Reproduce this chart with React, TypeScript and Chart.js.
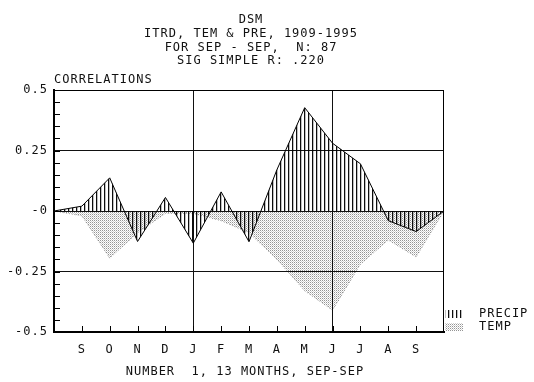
import React, { useEffect, useRef } from 'react';
import { Chart, registerables } from 'chart.js';

Chart.register(...registerables);

const categories = ['', 'S', 'O', 'N', 'D', 'J', 'F', 'M', 'A', 'M', 'J', 'J', 'A', 'S', ''];
const precip = [0, 0.02, 0.137, -0.126, 0.056, -0.133, 0.079, -0.127, 0.17, 0.427, 0.28, 0.195, -0.04, -0.085, 0];
const temp = [0, -0.02, -0.195, -0.09, -0.01, -0.01, -0.04, -0.09, -0.2, -0.33, -0.41, -0.22, -0.12, -0.19, 0];
const yTickValues = [0.5, 0.25, 0, -0.25, -0.5];
const gridValues = [0.25, 0, -0.25];
const gridMonths = [5, 10];
const titleLines = ['DSM', 'ITRD, TEM & PRE, 1909-1995', 'FOR SEP - SEP,  N: 87', 'SIG SIMPLE R: .220'];
const yAxisTitle = 'CORRELATIONS';
const caption = 'NUMBER  1, 13 MONTHS, SEP-SEP';
const seriesNames = ['PRECIP', 'TEMP'];

const FONT = '"DejaVu Sans Mono", "Liberation Mono", monospace';

function makePattern(ctx: CanvasRenderingContext2D, w: number, h: number, draw: (g: CanvasRenderingContext2D) => void) {
  const c = document.createElement('canvas');
  c.width = w;
  c.height = h;
  const g = c.getContext('2d') as CanvasRenderingContext2D;
  draw(g);
  return ctx.createPattern(c, 'repeat') as CanvasPattern;
}

export default function App() {
  const ref = useRef<HTMLCanvasElement | null>(null);

  useEffect(() => {
    const canvas = ref.current;
    if (!canvas) return;
    const ctx0 = canvas.getContext('2d') as CanvasRenderingContext2D;

    const hatch = makePattern(ctx0, 4, 1, (g) => {
      g.fillStyle = 'rgba(0,0,0,0.95)';
      g.fillRect(0, 0, 1, 1);
      g.fillStyle = 'rgba(0,0,0,0.25)';
      g.fillRect(1, 0, 1, 1);
    });
    const stipple = makePattern(ctx0, 2, 2, (g) => {
      g.fillStyle = 'rgba(0,0,0,0.42)';
      g.fillRect(0, 0, 1, 1);
      g.fillStyle = 'rgba(0,0,0,0.18)';
      g.fillRect(1, 1, 1, 1);
    });

    const decor = {
      id: 'decor',
      beforeDraw(chart: any) {
        chart.ctx.letterSpacing = '1px';
      },
      afterDraw(chart: any) {
        const { ctx, chartArea: a, scales } = chart;
        const xs = scales.x;
        const ys = scales.y;
        ctx.save();
        ctx.letterSpacing = '1px';
        ctx.strokeStyle = '#000';
        ctx.lineWidth = 1;
        ctx.beginPath();
        ctx.moveTo(a.left, a.top + 0.5);
        ctx.lineTo(a.right, a.top + 0.5);
        ctx.moveTo(a.right - 0.5, a.top);
        ctx.lineTo(a.right - 0.5, a.bottom);
        ctx.stroke();

        // inner minor ticks on the y axis (every 0.05)
        ctx.beginPath();
        for (let k = -10; k <= 10; k++) {
          const py = Math.round(ys.getPixelForValue(k * 0.05)) + 0.5;
          ctx.moveTo(a.left, py);
          ctx.lineTo(a.left + 6, py);
        }
        // inner ticks on the x axis at each month
        for (let i = 1; i < categories.length - 1; i++) {
          const px = Math.round(xs.getPixelForValue(i)) + 0.5;
          ctx.moveTo(px, a.bottom);
          ctx.lineTo(px, a.bottom - 6);
        }
        ctx.stroke();

        ctx.fillStyle = '#111';
        ctx.font = `12px ${FONT}`;
        ctx.textBaseline = 'middle';
        ctx.textAlign = 'center';
        const cx = (a.left + a.right) / 2 + 2;
        titleLines.forEach((t, i) => ctx.fillText(t, cx, 20 + i * 13.7));
        ctx.textAlign = 'left';
        ctx.fillText(yAxisTitle, a.left, a.top - 10);
        ctx.textAlign = 'center';
        ctx.fillText(caption, cx - 6, 372);

        // legend
        const pats = [hatch, stipple];
        ctx.textAlign = 'left';
        seriesNames.forEach((n, i) => {
          const yy = 314 + i * 13;
          ctx.fillStyle = pats[i];
          ctx.fillRect(a.right + 1, yy - 4, 18, 8);
          ctx.fillStyle = '#111';
          ctx.fillText(n, a.right + 35, yy);
        });
        ctx.restore();
      },
    };

    const chart = new Chart(canvas, {
      type: 'line',
      data: {
        labels: categories,
        datasets: [
          {
            label: seriesNames[0],
            data: precip,
            borderColor: '#000',
            borderWidth: 1,
            backgroundColor: hatch,
            fill: 'origin',
            pointRadius: 0,
            tension: 0,
          },
          {
            label: seriesNames[1],
            data: temp,
            borderColor: 'rgba(0,0,0,0.35)',
            borderWidth: 1,
            borderDash: [1, 2],
            backgroundColor: stipple,
            fill: 'origin',
            pointRadius: 0,
            tension: 0,
          },
        ],
      },
      options: {
        animation: false,
        responsive: false,
        devicePixelRatio: 1,
        layout: { padding: { left: 0, right: 90, top: 90, bottom: 0 } },
        plugins: {
          legend: { display: false },
          title: { display: false },
          tooltip: { enabled: false },
        },
        scales: {
          x: {
            type: 'category',
            offset: false,
            afterFit: (s: any) => {
              s.height = 50;
            },
            grid: {
              drawTicks: false,
              color: (c: any) => (gridMonths.includes(c.index) ? '#111' : 'rgba(0,0,0,0)'),
              lineWidth: 1,
            },
            border: { display: true, color: '#000', width: 2 },
            ticks: {
              autoSkip: false,
              maxRotation: 0,
              padding: 11,
              color: '#111',
              font: { family: FONT, size: 12 },
            },
          },
          y: {
            min: -0.5,
            max: 0.5,
            afterFit: (s: any) => {
              s.width = 54;
            },
            afterBuildTicks: (s: any) => {
              s.ticks = yTickValues.map((v) => ({ value: v }));
            },
            grid: {
              drawTicks: false,
              color: (c: any) => (c.tick && gridValues.includes(c.tick.value) ? '#111' : 'rgba(0,0,0,0)'),
              lineWidth: 1,
            },
            border: { display: true, color: '#000', width: 2 },
            ticks: {
              padding: 6,
              color: '#111',
              font: { family: FONT, size: 12 },
              callback: (v: any) => (v === 0 ? '-0' : String(v)),
            },
          },
        },
      },
      plugins: [decor],
    });

    return () => chart.destroy();
  }, []);

  return (
    <div style={{ position: 'fixed', left: 0, top: 0, width: 534, height: 382, background: '#fff' }}>
      <canvas ref={ref} width={534} height={382} style={{ display: 'block' }} />
    </div>
  );
}
